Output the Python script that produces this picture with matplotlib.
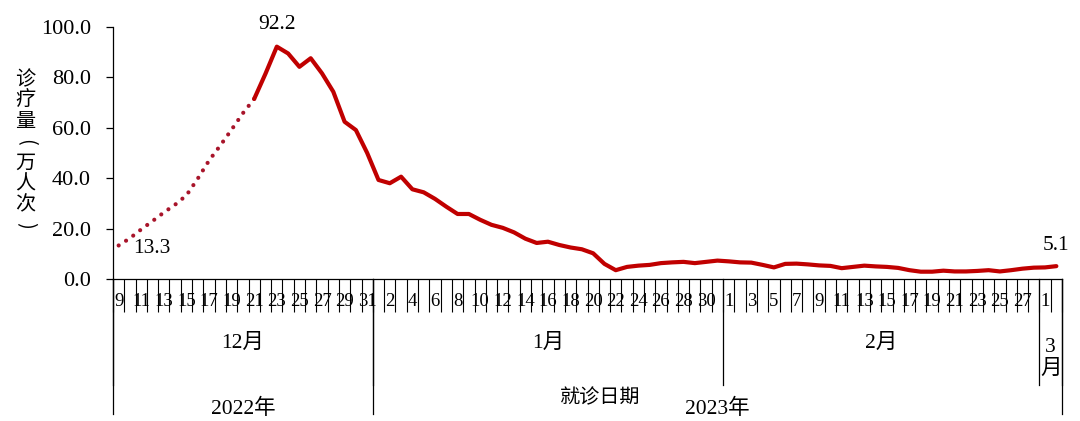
import matplotlib
matplotlib.use('Agg')
import matplotlib.pyplot as plt
import matplotlib.transforms as mtransforms
import numpy as np

# ---------------- data ----------------
months = ['12月', '1月', '2月', '3\n月']
month_days = [list(range(9, 32)), list(range(1, 32)), list(range(1, 29)), [1, 2]]
years = ['2022年', '2023年']
year_month_counts = [1, 3]

values_dec = [13.3, 16.2, 19.7, 23.0, 26.4, 29.5, 33.2, 39.8, 47.0, 53.0, 59.3, 65.8,
              71.5, 81.5, 92.2, 89.5, 84.2, 87.6, 81.6, 74.3, 62.4, 59.1, 50.0]
values_jan = [39.3, 38.0, 40.6, 35.6, 34.4, 31.8, 28.7, 25.8, 25.8, 23.5, 21.5, 20.3,
              18.5, 16.0, 14.3, 14.8, 13.5, 12.5, 11.8, 10.2, 6.0, 3.5, 4.8, 5.3,
              5.6, 6.3, 6.6, 6.8, 6.3, 6.8, 7.3]
values_feb = [7.0, 6.6, 6.5, 5.6, 4.6, 6.0, 6.1, 5.8, 5.4, 5.2, 4.3, 4.8, 5.3, 5.0,
              4.8, 4.4, 3.5, 2.9, 2.9, 3.3, 3.0, 3.0, 3.2, 3.5, 3.0, 3.5, 4.1, 4.5]
values_mar = [4.6, 5.1]
n_estimated = 13  # Dec 9 - Dec 21 drawn dotted

yticks = [0, 20, 40, 60, 80, 100]
ylabel = '诊疗量(万人次)'
xlabel = '就诊日期'

values = values_dec + values_jan + values_feb + values_mar
days = [d for m in month_days for d in m]
n = len(values)
x = np.arange(n)

RED = '#C00000'
DOT = '#A8142A'
SERIF = ['Liberation Serif', 'Noto Sans CJK SC']
CJK = ['Noto Sans CJK SC', 'DejaVu Sans']
FS = 15.5

fig = plt.figure(figsize=(10.8, 4.21), dpi=100)
ax = fig.add_axes([113 / 1080, 142 / 421, 949 / 1080, 252 / 421])
ax.set_xlim(-0.5, n - 0.5)
ax.set_ylim(0, 100)

ax.plot(x[:n_estimated], values[:n_estimated], color=DOT, lw=3,
        linestyle=(0, (0.01, 2.1)), dash_capstyle='round')
ax.plot(x[n_estimated - 1:], values[n_estimated - 1:], color=RED, lw=3,
        solid_joinstyle='round', solid_capstyle='round')

# annotations
peak = int(np.argmax(values))
ax.annotate(f'{values[0]:.1f}', (x[0], values[0]), xytext=(24, -2),
            textcoords='offset points', fontsize=FS, family=SERIF,
            ha='center', va='center')
ax.annotate(f'{values[peak]:.1f}', (x[peak], values[peak]), xytext=(0, 16),
            textcoords='offset points', fontsize=FS, family=SERIF,
            ha='center', va='center', annotation_clip=False)
ax.annotate(f'{values[-1]:.1f}', (x[-1], values[-1]), xytext=(0, 15),
            textcoords='offset points', fontsize=FS, family=SERIF,
            ha='center', va='center', annotation_clip=False)

# spines
for s in ['top', 'right']:
    ax.spines[s].set_visible(False)
for s in ['left', 'bottom']:
    ax.spines[s].set_color('black')
    ax.spines[s].set_linewidth(0.9)

# y axis
ax.set_yticks(yticks)
ax.set_yticklabels([f'{v:.1f}' for v in yticks], fontsize=FS + 0.5, family=SERIF)
ax.tick_params(axis='y', direction='out', length=5, width=0.9, pad=11)

# x axis: boundary ticks (major) and day labels (minor)
ax.set_xticks(np.arange(-0.5, n, 1.0))
ax.set_xticklabels([])
ax.tick_params(axis='x', which='major', direction='out', length=24, width=0.8)
ax.set_xticks(x[::2], minor=True)
ax.set_xticklabels([str(d) for d in days[::2]], minor=True, fontsize=13.5, family=SERIF)
ax.tick_params(axis='x', which='minor', length=0, pad=10)

trans = mtransforms.blended_transform_factory(ax.transData, ax.transAxes)

# month separators and labels
counts = [len(m) for m in month_days]
bounds = np.concatenate([[0], np.cumsum(counts)]) - 0.5
for b in bounds:
    ax.plot([b, b], [0, -0.42], transform=trans, color='black', lw=0.9, clip_on=False)
for i, name in enumerate(months):
    cx = (bounds[i] + bounds[i + 1]) / 2
    if '\n' in name:
        ax.text(cx, -0.315, name, transform=trans, ha='center', va='center',
                fontsize=FS, family=SERIF, linespacing=1.15)
    else:
        ax.text(cx, -0.255, name, transform=trans, ha='center', va='center',
                fontsize=FS, family=SERIF)

# year separators and labels
ycum = np.concatenate([[0], np.cumsum(year_month_counts)])
ybounds = bounds[ycum]
for b in ybounds:
    ax.plot([b, b], [0, -0.535], transform=trans, color='black', lw=0.9, clip_on=False)
for i, name in enumerate(years):
    cx = (ybounds[i] + ybounds[i + 1]) / 2
    ax.text(cx, -0.515, name, transform=trans, ha='center', va='center',
            fontsize=FS, family=SERIF)

# axis titles
ax.text(0.513, -0.47, xlabel, transform=ax.transAxes, ha='center', va='center',
        fontsize=14.5, family=CJK)
# y title written vertically, one character per row, brackets turned
y0_px, pitch_px = 80, 20.8
for i, ch in enumerate(ylabel):
    rot = -90 if ch in '()' else 0
    fig.text(25 / 1080, 1 - (y0_px + i * pitch_px) / 421, ch, ha='center', va='center',
             fontsize=14.5, family=CJK, rotation=rot, rotation_mode='anchor')

fig.savefig('out.png', dpi=100, facecolor='white')
